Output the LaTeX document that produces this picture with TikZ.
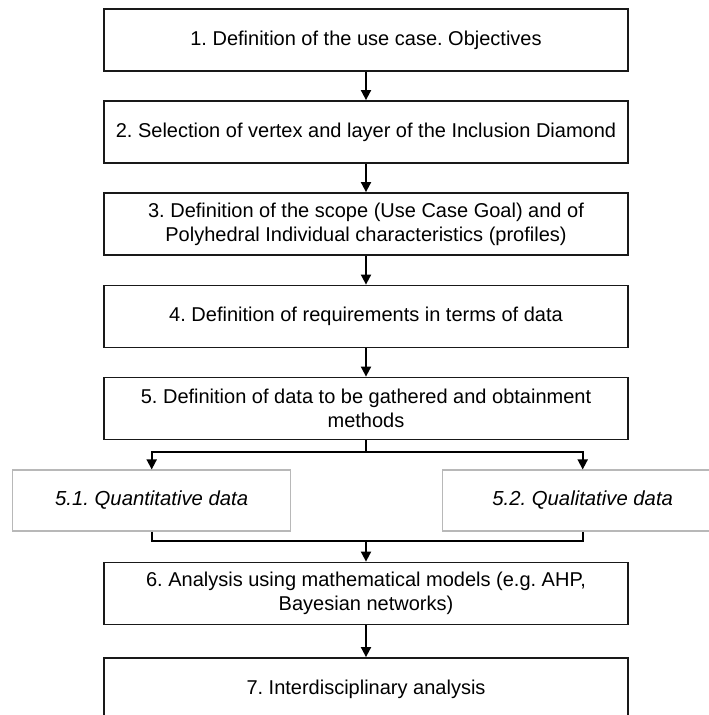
\documentclass[tikz,border=0pt]{standalone}
\usepackage{fontspec}
\setmainfont{Liberation Sans}
\usetikzlibrary{arrows.meta}
\tikzset{
  mainbox/.style={draw=black!90, line width=1.8pt, fill=white, minimum width=524pt, minimum height=62pt, inner sep=0pt, align=center, font=\fontsize{20}{24}\selectfont},
  subbox/.style={draw=black!28, line width=1.1pt, fill=white, minimum height=61pt, inner sep=0pt, align=center, font=\fontsize{20.3}{24}\selectfont\itshape},
  conn/.style={line width=1.8pt, draw=black},
  arr/.style={conn, -{Triangle[length=10pt,width=10pt]}}
}
\begin{document}
\frenchspacing
\begin{tikzpicture}[x=1pt,y=-1pt]
\useasboundingbox (0,0) rectangle (709,715);
\clip (0,0) rectangle (709,715);
\node[mainbox] (b1) at (366,40) {1. Definition of the use case. Objectives};
\node[mainbox] (b2) at (366,132) {2. Selection of vertex and layer of the Inclusion Diamond};
\node[mainbox] (b3) at (366,224) {3. Definition of the scope (Use Case Goal) and of\\Polyhedral Individual characteristics (profiles)};
\node[mainbox] (b4) at (366,316.5) {4. Definition of requirements in terms of data};
\node[mainbox] (b5) at (366,408.5) {5. Definition of data to be gathered and obtainment\\methods};
\node[subbox, minimum width=278pt] (q1) at (151.7,500.5) {5.1. Quantitative data};
\node[subbox, minimum width=280pt] (q2) at (582.7,500.5) {5.2. Qualitative data};
\node[mainbox] (b6) at (366,593.5) {6. Analysis using mathematical models (e.g. AHP,\\Bayesian networks)};
\node[mainbox] (b7) at (366,689) {7. Interdisciplinary analysis};
\coordinate (s) at (366,451.7);
\coordinate (m) at (366,541);
\draw[arr] (b1) -- (b2);
\draw[arr] (b2) -- (b3);
\draw[arr] (b3) -- (b4);
\draw[arr] (b4) -- (b5);
\draw[conn] (b5.south) -- (s);
\draw[arr] (s) -| (q1.north);
\draw[arr] (s) -| (q2.north);
\draw[conn] (q1.south) |- (m) -| (q2.south);
\draw[arr] (m) -- (b6.north);
\draw[arr] (b6) -- (b7);
\end{tikzpicture}
\end{document}
